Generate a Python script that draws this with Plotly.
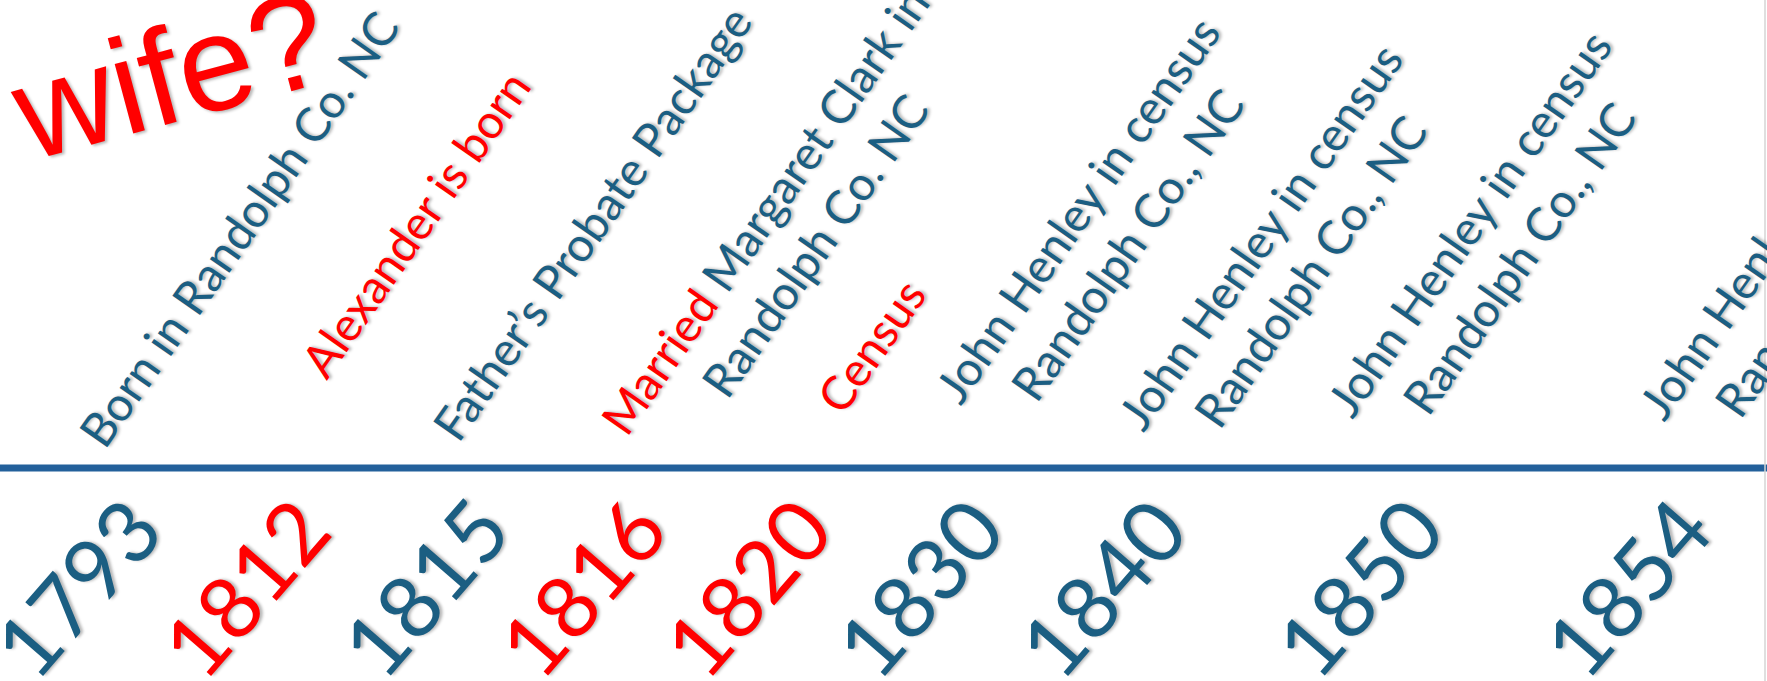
import plotly.graph_objects as go

# ---- data ----
years = ["1793", "1812", "1815", "1816", "1820", "1830", "1840", "1850", "1854"]
year_is_red = [False, True, False, True, True, False, False, False, False]
events = [
    "Born in Randolph Co. NC",
    "Alexander is born",
    "Father’s Probate Package",
    "<span style='color:#ff0000'>Married</span> Margaret Clark in<br>Randolph Co. NC",
    "Census",
    "John Henley in census<br>Randolph Co., NC",
    "John Henley in census<br>Randolph Co., NC",
    "John Henley in census<br>Randolph Co., NC",
    "John Henley in census<br>Randolph Co., NC",
]
event_is_red = [False, True, False, False, True, False, False, False, False]
note = "wife?"

# ---- styling / layout ----
W, H = 1767, 681
BLUE = "#1b5e82"
RED = "#ff0000"
LINE = "#23609b"
SHADOW = "2px 2px 3px rgba(0,0,0,0.28)"
# per-label pixel nudges (layout only)
year_dx = [37, 18, 10, -20, -42, -57, -61, 8, 89]
event_dx = [199, 189, 178, 189, 83, 127, 122, 144, 268]
event_cy = [229, 223, 223, 228, 345, 227, 253, 241, 243]

fig = go.Figure()
fig.add_trace(go.Scatter(x=years, y=[0.5] * len(years), mode="markers",
                         marker=dict(opacity=0), hoverinfo="skip", showlegend=False))

ann = []
for i, yr in enumerate(years):
    ann.append(dict(
        x=i, xref="x", y=1 - 474 / H, yref="paper", text=yr, showarrow=False,
        textangle=-49, xanchor="center", yanchor="top", xshift=year_dx[i],
        font=dict(family="Lato", size=86, color=RED if year_is_red[i] else BLUE, shadow=SHADOW),
    ))
    ann.append(dict(
        x=i, xref="x", y=1 - event_cy[i] / H, yref="paper", text=events[i], showarrow=False,
        textangle=-55, xanchor="center", yanchor="middle", xshift=event_dx[i], align="center",
        font=dict(family="Lato", size=47, color=RED if event_is_red[i] else BLUE, shadow=SHADOW),
    ))
ann.append(dict(
    x=170 / W, xref="paper", y=1 - 75 / H, yref="paper", text=note, showarrow=False,
    textangle=-15, xanchor="center", yanchor="middle",
    font=dict(family="Liberation Sans", size=136, color=RED, shadow=SHADOW),
))

fig.update_layout(
    width=W, height=H, margin=dict(l=0, r=0, t=0, b=0),
    paper_bgcolor="white", plot_bgcolor="white", showlegend=False,
    xaxis=dict(type="category", categoryorder="array", categoryarray=years,
               range=[-0.209, 9.23], visible=False, fixedrange=True),
    yaxis=dict(range=[0, 1], visible=False, fixedrange=True),
    annotations=ann,
    shapes=[
        dict(type="line", xref="paper", yref="paper", x0=0, x1=1,
             y0=1 - 468 / H, y1=1 - 468 / H, line=dict(color=LINE, width=7)),
        dict(type="line", xref="paper", yref="paper", x0=1765 / W, x1=1765 / W,
             y0=0, y1=1, line=dict(color="#d4d4d4", width=1.5)),
    ],
)
fig.write_html("out.html", config={"displayModeBar": False},
               post_script="document.body.style.margin='0';")
